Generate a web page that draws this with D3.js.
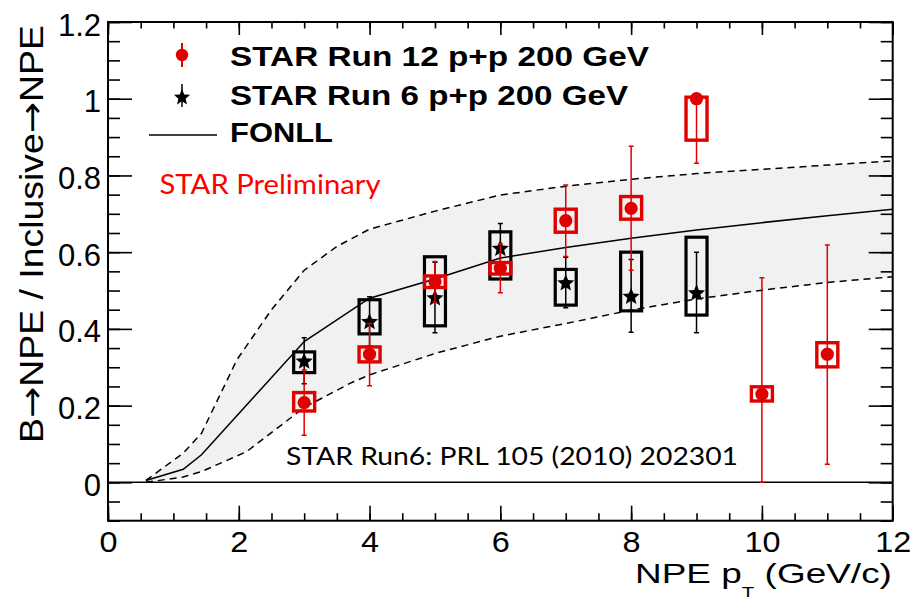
<!DOCTYPE html>
<html>
<head>
<meta charset="utf-8">
<script src="https://cdn.jsdelivr.net/npm/d3@7"></script>
<style>
  body { margin: 0; background: #fff; }
  svg { display: block; }
</style>
</head>
<body>
<div id="chart"></div>
<script>
// STAR Run 12 p+p 200 GeV (red circles)
var run12Pt     = [3, 4, 5, 6, 7, 8, 9, 10, 11];
var run12Val    = [0.208, 0.334, 0.523, 0.558, 0.682, 0.714, 1.0, 0.230, 0.334];
var run12ErrLo  = [0.085, 0.082, 0.053, 0.064, 0.093, 0.161, 0.168, 0.230, 0.287];
var run12ErrHi  = [0.085, 0.080, 0.053, 0.064, 0.093, 0.162, 0.0, 0.303, 0.285];
var run12SysLo  = [0.022, 0.020, 0.015, 0.015, 0.030, 0.028, 0.108, 0.018, 0.033];
var run12SysHi  = [0.026, 0.019, 0.015, 0.015, 0.030, 0.031, 0.004, 0.019, 0.030];

// STAR Run 6 p+p 200 GeV (black stars)
var run6Pt    = [3, 4, 5, 6, 7, 8, 9];
var run6Val   = [0.317, 0.420, 0.482, 0.611, 0.521, 0.486, 0.495];
var run6Err   = [0.060, 0.064, 0.092, 0.064, 0.066, 0.095, 0.105];
var run6SysLo = [0.031, 0.033, 0.074, 0.081, 0.059, 0.039, 0.059];
var run6SysHi = [0.023, 0.056, 0.106, 0.042, 0.034, 0.114, 0.144];

// FONLL central value and uncertainty band
var fonllPt    = [0.58, 1.15, 1.43, 3.0, 4.0, 5.0, 6.0, 7.0, 8.0, 9.0, 10.0, 11.0, 12.0];
var fonllMid   = [0.005, 0.034, 0.072, 0.367, 0.480, 0.530, 0.585, 0.612, 0.636, 0.658, 0.677, 0.695, 0.712];
var fonllUpPt  = [0.58, 1.15, 1.43, 1.97, 2.5, 3.0, 3.5, 4.0, 5.0, 6.0, 7.0, 8.0, 9.0, 10.0, 11.0, 12.0];
var fonllUp    = [0.005, 0.076, 0.128, 0.319, 0.450, 0.553, 0.615, 0.660, 0.707, 0.749, 0.772, 0.790, 0.805, 0.816, 0.827, 0.838];
var fonllLoPt  = [0.58, 1.15, 1.43, 2.12, 3.0, 3.7, 4.0, 5.0, 6.0, 7.0, 8.0, 9.0, 10.0, 11.0, 12.0];
var fonllLo    = [0.0, 0.014, 0.028, 0.080, 0.195, 0.258, 0.280, 0.336, 0.381, 0.414, 0.449, 0.478, 0.501, 0.521, 0.536];

var xTicks = [0, 2, 4, 6, 8, 10, 12];
var yTicks = [0, 0.2, 0.4, 0.6, 0.8, 1, 1.2];

var width = 916, height = 602;
var red = "#e00000";

var x = d3.scaleLinear().domain([0, 12]).range([108, 892.7]);
var y = d3.scaleLinear().domain([-0.1, 1.2]).range([520.7, 22]);

var svg = d3.select("#chart").append("svg")
    .attr("width", width)
    .attr("height", height);

// fatter 5 point star like the ROOT marker (size = outer radius here)
var rootStar = {
  draw: function(context, R) {
    var r = R * 0.45;
    for (var i = 0; i < 10; i++) {
      var a = -Math.PI / 2 + i * Math.PI / 5, rr = i % 2 ? r : R;
      if (i === 0) context.moveTo(rr * Math.cos(a), rr * Math.sin(a));
      else context.lineTo(rr * Math.cos(a), rr * Math.sin(a));
    }
    context.closePath();
  }
};

// band between upper and lower FONLL curves (upper goes out, lower comes back)
var line = d3.line().x(function(d) { return x(d[0]); }).y(function(d) { return y(d[1]); });
function zipPts(a, b) { return a.map(function(p, i) { return [p, b[i]]; }); }

var bandPts = zipPts(fonllUpPt, fonllUp).concat(zipPts(fonllLoPt, fonllLo).reverse());
svg.append("path")
    .attr("d", line(bandPts) + "Z")
    .attr("fill", "#f1f1f1")
    .attr("stroke", "none");

svg.append("path").attr("d", line(zipPts(fonllUpPt, fonllUp)))
    .attr("fill", "none").attr("stroke", "#000").attr("stroke-width", 1.5).attr("stroke-dasharray", "7,5");
svg.append("path").attr("d", line(zipPts(fonllLoPt, fonllLo)))
    .attr("fill", "none").attr("stroke", "#000").attr("stroke-width", 1.5).attr("stroke-dasharray", "7,5");
svg.append("path").attr("d", line(zipPts(fonllPt, fonllMid)))
    .attr("fill", "none").attr("stroke", "#000").attr("stroke-width", 1.5);

// zero line
svg.append("line")
    .attr("x1", x(0)).attr("x2", x(12)).attr("y1", y(0)).attr("y2", y(0))
    .attr("stroke", "#000").attr("stroke-width", 1.5);

//////////////////////////////////////
// axes, ROOT style ticks inside frame
//////////////////////////////////////
function styleAxis(g) {
  g.select(".domain").remove();
  g.selectAll("line").attr("stroke", "#000").attr("stroke-width", 1.6);
  g.selectAll("text").style("font-family", "'Liberation Sans', Arial, sans-serif")
    .style("font-size", "30px").attr("fill", "#000");
}
var xMinor = d3.range(0, 12.01, 0.5);
var yMinor = d3.range(-0.1, 1.201, 0.05);

svg.append("g").attr("transform", "translate(0," + y(-0.1) + ")")
  .call(d3.axisBottom(x).tickValues(xMinor).tickSize(-7.5).tickFormat("")).call(styleAxis);
var xAx = svg.append("g").attr("transform", "translate(0," + y(-0.1) + ")")
  .call(d3.axisBottom(x).tickValues(xTicks).tickSizeInner(-15).tickSizeOuter(0).tickPadding(10)
    .tickFormat(d3.format("~g"))).call(styleAxis);
xAx.selectAll("text").attr("transform", "scale(1.08,1)");
svg.append("g").attr("transform", "translate(0," + y(1.2) + ")")
  .call(d3.axisTop(x).tickValues(xMinor).tickSize(-6.5).tickFormat("")).call(styleAxis);
svg.append("g").attr("transform", "translate(0," + y(1.2) + ")")
  .call(d3.axisTop(x).tickValues(xTicks).tickSize(-13).tickFormat("")).call(styleAxis);

svg.append("g").attr("transform", "translate(" + x(0) + ",0)")
  .call(d3.axisLeft(y).tickValues(yMinor).tickSize(-12).tickFormat("")).call(styleAxis);
var yAx = svg.append("g").attr("transform", "translate(" + x(0) + ",0)")
  .call(d3.axisLeft(y).tickValues(yTicks).tickSizeInner(-24).tickSizeOuter(0).tickPadding(7)
    .tickFormat(d3.format("~g"))).call(styleAxis);
yAx.selectAll("text").attr("dy", "0.42em").style("font-size", "31px");
svg.append("g").attr("transform", "translate(" + x(12) + ",0)")
  .call(d3.axisRight(y).tickValues(yMinor).tickSize(-12).tickFormat("")).call(styleAxis);
svg.append("g").attr("transform", "translate(" + x(12) + ",0)")
  .call(d3.axisRight(y).tickValues(yTicks).tickSize(-24).tickFormat("")).call(styleAxis);

// frame
svg.append("rect")
    .attr("x", x(0)).attr("y", y(1.2))
    .attr("width", x(12) - x(0)).attr("height", y(-0.1) - y(1.2))
    .attr("fill", "none").attr("stroke", "#000").attr("stroke-width", 2);

//////////////////////////////////////
// Run 6 points
//////////////////////////////////////
var boxHalf = 10.5;
var run6 = run6Pt.map(function(p, i) {
  return {pt: p, v: run6Val[i], e: run6Err[i], sLo: run6SysLo[i], sHi: run6SysHi[i]};
});
var g6 = svg.append("g");
g6.selectAll(".sys6").data(run6).enter().append("rect")
    .attr("x", function(d) { return x(d.pt) - boxHalf; })
    .attr("y", function(d) { return y(d.v + d.sHi); })
    .attr("width", boxHalf * 2)
    .attr("height", function(d) { return y(d.v - d.sLo) - y(d.v + d.sHi); })
    .attr("fill", "none").attr("stroke", "#000").attr("stroke-width", 3.2);
g6.selectAll(".err6").data(run6).enter().append("path")
    .attr("d", function(d) {
      var cx = x(d.pt), t = y(d.v + d.e), b = y(d.v - d.e);
      return "M" + cx + "," + t + "V" + b + "M" + (cx - 2.5) + "," + t + "H" + (cx + 2.5) +
             "M" + (cx - 2.5) + "," + b + "H" + (cx + 2.5);
    })
    .attr("fill", "none").attr("stroke", "#000").attr("stroke-width", 1.5);
g6.selectAll(".star6").data(run6).enter().append("path")
    .attr("d", d3.symbol().type(rootStar).size(9))
    .attr("transform", function(d) { return "translate(" + x(d.pt) + "," + (y(d.v) + 0.8) + ")"; })
    .attr("fill", "#000");

//////////////////////////////////////
// Run 12 points
//////////////////////////////////////
var run12 = run12Pt.map(function(p, i) {
  return {pt: p, v: run12Val[i], eLo: run12ErrLo[i], eHi: run12ErrHi[i], sLo: run12SysLo[i], sHi: run12SysHi[i]};
});
var g12 = svg.append("g");
g12.selectAll(".sys12").data(run12).enter().append("rect")
    .attr("x", function(d) { return x(d.pt) - boxHalf; })
    .attr("y", function(d) { return y(d.v + d.sHi); })
    .attr("width", boxHalf * 2)
    .attr("height", function(d) { return y(d.v - d.sLo) - y(d.v + d.sHi); })
    .attr("fill", "none").attr("stroke", red).attr("stroke-width", 3.4);
g12.selectAll(".err12").data(run12).enter().append("path")
    .attr("d", function(d) {
      var cx = x(d.pt), t = y(d.v + d.eHi), b = y(d.v - d.eLo);
      return "M" + cx + "," + t + "V" + b + "M" + (cx - 2.5) + "," + t + "H" + (cx + 2.5) +
             "M" + (cx - 2.5) + "," + b + "H" + (cx + 2.5);
    })
    .attr("fill", "none").attr("stroke", red).attr("stroke-width", 1.5);
g12.selectAll(".dot12").data(run12).enter().append("circle")
    .attr("cx", function(d) { return x(d.pt); })
    .attr("cy", function(d) { return y(d.v); })
    .attr("r", 6.6)
    .attr("fill", red);

//////////////////////////////////////
// legend
//////////////////////////////////////
var leg = svg.append("g");
leg.append("line").attr("x1", 182).attr("x2", 182).attr("y1", 43).attr("y2", 67)
    .attr("stroke", red).attr("stroke-width", 2);
leg.append("circle").attr("cx", 182).attr("cy", 55).attr("r", 6.2).attr("fill", red);
leg.append("line").attr("x1", 182).attr("x2", 182).attr("y1", 84).attr("y2", 107)
    .attr("stroke", "#000").attr("stroke-width", 1.5);
leg.append("path").attr("d", d3.symbol().type(rootStar).size(8.5))
    .attr("transform", "translate(182,97.5)").attr("fill", "#000");
leg.append("line").attr("x1", 149).attr("x2", 217).attr("y1", 135).attr("y2", 135)
    .attr("stroke", "#000").attr("stroke-width", 1.5);

var legText = [
  {t: "STAR Run 12 p+p 200 GeV", y: 65.7, w: 419},
  {t: "STAR Run 6 p+p 200 GeV", y: 105, w: 398},
  {t: "FONLL", y: 142, w: 103}
];
leg.selectAll(".lt").data(legText).enter().append("text")
    .attr("x", 230).attr("y", function(d) { return d.y; })
    .attr("textLength", function(d) { return d.w; })
    .attr("lengthAdjust", "spacingAndGlyphs")
    .style("font-family", "'Liberation Sans', Arial, sans-serif")
    .style("font-weight", "bold").style("font-size", "28px")
    .text(function(d) { return d.t; });

// annotations
svg.append("text")
    .attr("x", 159.5).attr("y", 194)
    .attr("textLength", 221).attr("lengthAdjust", "spacingAndGlyphs")
    .style("font-family", "Lato, 'Open Sans', sans-serif").style("font-size", "27px")
    .attr("fill", "#ff0000")
    .text("STAR Preliminary");
svg.append("text")
    .attr("x", 286).attr("y", 465)
    .attr("textLength", 452).attr("lengthAdjust", "spacingAndGlyphs")
    .style("font-family", "Lato, 'Open Sans', sans-serif").style("font-size", "25.5px")
    .attr("fill", "#000")
    .text("STAR Run6: PRL 105 (2010) 202301");

// axis titles
var yTitle = svg.append("text")
    .attr("transform", "translate(43,443) rotate(-90)")
    .attr("textLength", 418).attr("lengthAdjust", "spacingAndGlyphs")
    .style("font-family", "'Liberation Sans', Arial, sans-serif").style("font-size", "33px");
yTitle.append("tspan").text("B");
yTitle.append("tspan").style("font-family", "'DejaVu Sans', sans-serif").text("\u2192");
yTitle.append("tspan").text("NPE / Inclusive");
yTitle.append("tspan").style("font-family", "'DejaVu Sans', sans-serif").text("\u2192");
yTitle.append("tspan").text("NPE");

var xTitleG = svg.append("g");
var xTitle = xTitleG.append("text")
    .style("font-family", "'Liberation Sans', Arial, sans-serif").style("font-size", "27px");
xTitle.append("tspan").text("NPE p");
xTitle.append("tspan").attr("dy", 14).style("font-size", "15px").text("T");
xTitle.append("tspan").attr("dy", -14).text(" (GeV/c)");
var bw = xTitle.node().getBBox().width;
xTitleG.attr("transform", "translate(635,583) scale(" + (257 / bw) + ",1)");
</script>
</body>
</html>
